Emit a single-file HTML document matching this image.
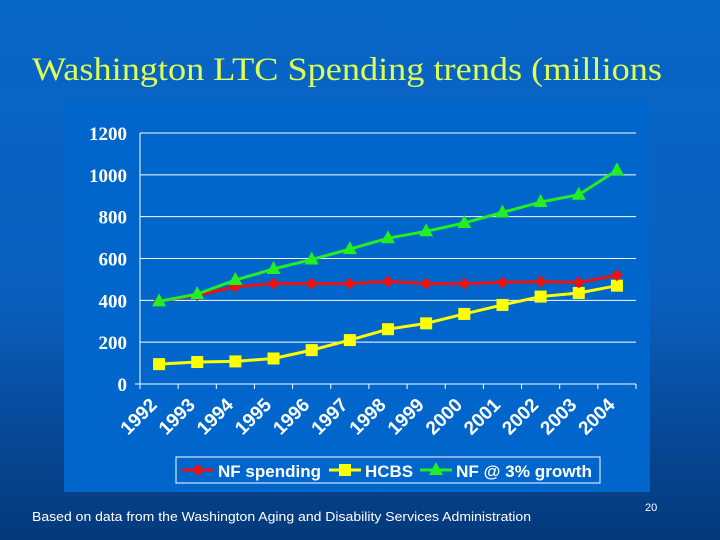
<!DOCTYPE html>
<html><head><meta charset="utf-8"><style>
body{margin:0;width:720px;height:540px;overflow:hidden;background:linear-gradient(180deg,#0866c6 0%,#0a5fbe 55%,#06448f 85%,#053a7c 100%);font-family:"Liberation Sans",sans-serif;}
svg{position:absolute;left:0;top:0}
</style></head><body>
<svg width="720" height="540">
<text x="32" y="80" font-family="Liberation Serif" font-size="33" fill="#ddff55" textLength="630" lengthAdjust="spacingAndGlyphs">Washington LTC Spending trends (millions</text>
<rect x="64" y="100" width="586" height="392" fill="#0066cc"/>
<g id="chart"></g>
<text x="32" y="521" font-size="12.5" fill="#fff" textLength="499" lengthAdjust="spacingAndGlyphs">Based on data from the Washington Aging and Disability Services Administration</text>
<text x="645" y="511" font-size="11" fill="#fff">20</text>
</svg>
<script>
const years=["1992","1993","1994","1995","1996","1997","1998","1999","2000","2001","2002","2003","2004"];
const nfSpending=[395,425,465,480,480,480,490,480,480,485,490,485,520];
const hcbs=[95,105,108,122,162,210,262,290,335,378,418,435,470];
const nfGrowth=[395,430,497,550,595,645,697,730,770,820,870,905,1022];
const yTicks=[0,200,400,600,800,1000,1200];
const NS="http://www.w3.org/2000/svg";
const g=document.getElementById('chart');
const X0=140,X1=636,Y0=384,Y1=133,YMAX=1200;
const bw=(X1-X0)/years.length;
function xs(i){return X0+bw*(i+0.5);}
function ys(v){return Y0-(v/YMAX)*(Y0-Y1);}
function mk(t,a){const e=document.createElementNS(NS,t);for(const k in a)e.setAttribute(k,a[k]);g.appendChild(e);return e;}
yTicks.forEach(v=>{
 if(v>0){const l=mk('line',{x1:X0,x2:X1,y1:ys(v),y2:ys(v),stroke:'#fff','stroke-width':1});
 
 }
 const t=mk('text',{x:X0-13,y:ys(v)+7,'text-anchor':'end','font-family':'Liberation Serif','font-weight':'bold','font-size':19,fill:'#fff'});
 t.textContent=v;
 
 
});
let ax=mk('line',{x1:X0,x2:X0,y1:Y1,y2:Y0,stroke:'#fff'});


ax=mk('line',{x1:X0-5,x2:X1,y1:Y0,y2:Y0,stroke:'#fff'});


for(let i=0;i<=years.length;i++){const tk=mk('line',{x1:X0+bw*i,x2:X0+bw*i,y1:Y0,y2:Y0+5,stroke:'#fff'});
 
 }
years.forEach((y,i)=>{
 const x=xs(i)-1,yy=Y0+22;
 const t=mk('text',{x:x,y:yy,'text-anchor':'end','font-weight':'bold','font-size':19,fill:'#fff',transform:`rotate(-45 ${x} ${yy})`});
 t.textContent=y;
 
 
});
function series(vals,color,shape,name){
 const p=mk('polyline',{points:vals.map((v,i)=>xs(i)+','+ys(v)).join(' '),fill:'none',stroke:color,'stroke-width':3});
 
 
 vals.forEach((v,i)=>marker(xs(i),ys(v),color,shape,name));
}
function marker(x,y,color,shape,name){
 let m;
 if(shape==='sq')m=mk('rect',{x:x-6,y:y-6,width:12,height:12,fill:color});
 else if(shape==='tri')m=mk('polygon',{points:`${x},${y-8} ${x+7},${y+5} ${x-7},${y+5}`,fill:color});
 else m=mk('polygon',{points:`${x},${y-6} ${x+6},${y} ${x},${y+6} ${x-6},${y}`,fill:color});
 
 
}
series(hcbs,'#ffff00','sq','hcbs');
series(nfSpending,'#ee1111','dia','nf-spending');
series(nfGrowth,'#22ee22','tri','nf-growth');
const lb=mk('rect',{x:176,y:457,width:424,height:26,fill:'#0066cc',stroke:'#fff','stroke-width':1});


const leg=[['NF spending','#ee1111','dia',182,103],['HCBS','#ffff00','sq',329,48],['NF @ 3% growth','#22ee22','tri',420,136]];
leg.forEach(([n,c,s,x,w])=>{
 const l=mk('line',{x1:x,x2:x+32,y1:470,y2:470,stroke:c,'stroke-width':3});
 
 
 marker(x+16,470,c,s,'legend');
 const t=mk('text',{x:x+36,y:477,'font-weight':'bold','font-size':17,fill:'#fff',textLength:w,lengthAdjust:'spacingAndGlyphs'});
 t.textContent=n;
 
 
});
</script>
</body></html>
